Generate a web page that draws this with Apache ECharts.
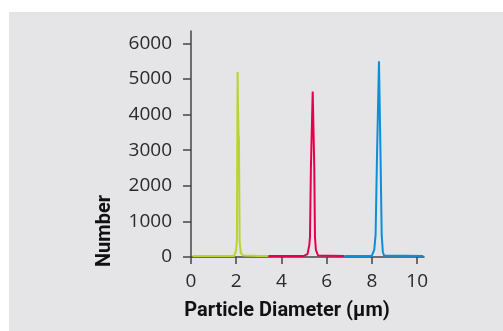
<!DOCTYPE html>
<html>
<head>
<meta charset="utf-8">
<script src="https://cdn.jsdelivr.net/npm/echarts@6/dist/echarts.min.js"></script>
<style>
  html, body { margin: 0; padding: 0; background: #fff; }
  #chart { width: 503px; height: 331px; }
</style>
</head>
<body>
<div id="chart"></div>
<script>
// particle size distributions, [diameter um, number]
const greenData = [[0.07, 30], [1.0, 30], [1.91, 30], [1.99, 180], [2.03, 480], [2.06, 5200], [2.08, 4200],
  [2.1, 3450], [2.12, 3300], [2.15, 430], [2.2, 120], [2.31, 40], [3.0, 30], [3.42, 30]]
const redData = [[3.42, 30], [4.99, 30], [5.15, 80], [5.23, 340], [5.26, 570], [5.3, 2500], [5.38, 4650],
  [5.45, 2500], [5.48, 570], [5.52, 200], [5.62, 40], [6.78, 30]]
const blueData = [[6.78, 30], [7.99, 30], [8.1, 200], [8.16, 620], [8.22, 2750], [8.31, 5500], [8.38, 2750],
  [8.43, 620], [8.48, 150], [8.53, 40], [10.27, 30]]
const xTicks = [0, 2, 4, 6, 8, 10]
const yTicks = [0, 1000, 2000, 3000, 4000, 5000, 6000]

const labelFont = 'Open Sans'
const axisColor = '#444'

const myChart = echarts.init(document.getElementById('chart'))

const makeLine = (data, color) => ({
  type: 'line',
  data: data,
  symbol: 'none',
  lineStyle: { color: color, width: 2 },
  itemStyle: { color: color }
})

const option = {
  animation: false,
  grid: { left: 191, right: 79, top: 31, bottom: 74 },
  graphic: [
    { type: 'rect', z: -10, silent: true, shape: { x: 9, y: 12, width: 494, height: 319 }, style: { fill: '#e5e5e8' } },
    {
      type: 'text', x: 287, y: 311,
      style: { text: 'Particle Diameter (\u03bcm)', align: 'center', verticalAlign: 'middle',
        font: 'bold 20px Roboto, sans-serif', fill: '#111' }
    },
    {
      type: 'text', x: 105, y: 231, rotation: Math.PI / 2,
      style: { text: 'Number', align: 'center', verticalAlign: 'middle',
        font: 'bold 20px Roboto, sans-serif', fill: '#111' }
    }
  ],
  xAxis: {
    type: 'value',
    min: 0,
    max: 10.3,
    splitLine: { show: false },
    axisLine: { show: true, lineStyle: { color: axisColor, width: 1.5 } },
    axisTick: { show: true, length: 7, customValues: xTicks, lineStyle: { color: axisColor, width: 1.5 } },
    axisLabel: { customValues: xTicks, margin: 15, fontSize: 19, fontFamily: labelFont, color: '#2a2a2a',
      formatter: v => String(v) }
  },
  yAxis: {
    type: 'value',
    min: 0,
    max: 6350,
    splitLine: { show: false },
    axisLine: { show: true, lineStyle: { color: axisColor, width: 1.5 } },
    axisTick: { show: true, length: 8, customValues: yTicks, lineStyle: { color: axisColor, width: 1.5 } },
    axisLabel: { customValues: yTicks, margin: 19, fontSize: 19, fontFamily: labelFont, color: '#2a2a2a',
      formatter: v => String(v) }
  },
  series: [
    makeLine(greenData, '#b8d432'),
    makeLine(redData, '#e6004c'),
    makeLine(blueData, '#0b8fd8')
  ]
}

myChart.setOption(option)
</script>
</body>
</html>
